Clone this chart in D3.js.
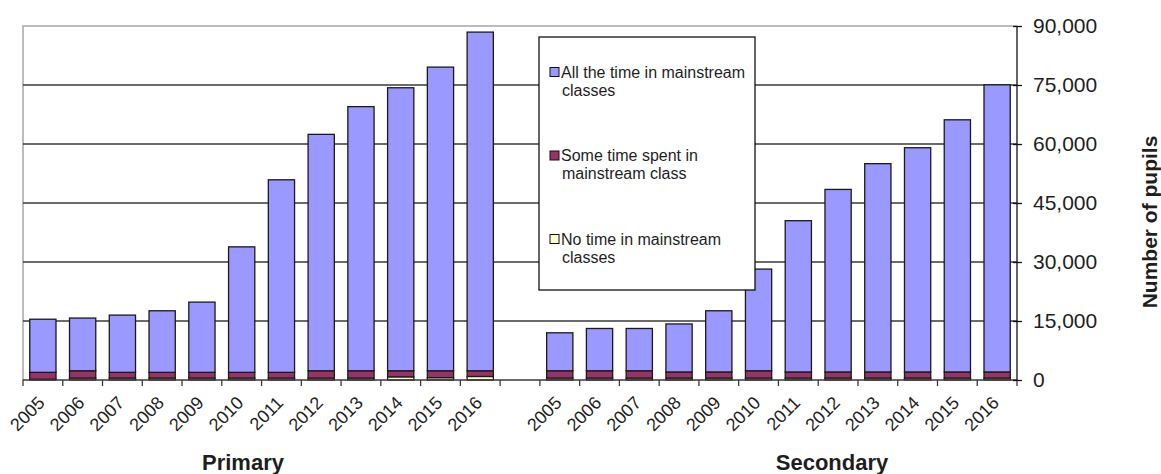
<!DOCTYPE html>
<html>
<head>
<meta charset="utf-8">
<script src="https://cdn.jsdelivr.net/npm/d3@7"></script>
<style>
  html, body { margin: 0; padding: 0; background: #fff; }
  svg { display: block; font-family: 'Liberation Sans', Arial, sans-serif; }
</style>
</head>
<body>
<div id="chart"></div>
<script>
/* Pupils by time spent in mainstream classes, primary vs secondary */

const years = ['2005', '2006', '2007', '2008', '2009', '2010', '2011', '2012', '2013', '2014', '2015', '2016'];
const seriesNames = ['No time in mainstream classes', 'Some time spent in mainstream class', 'All the time in mainstream classes'];

const primaryNone = [200, 500, 500, 500, 500, 500, 500, 500, 500, 800, 600, 900];
const primarySome = [1750, 1850, 1450, 1450, 1450, 1450, 1450, 1850, 1850, 1550, 1750, 1450];
const primaryAll  = [13500, 13400, 14550, 15650, 17850, 31900, 48950, 60100, 67150, 71950, 77200, 86100];

const secondaryNone = [500, 500, 500, 500, 500, 500, 500, 500, 500, 500, 500, 500];
const secondarySome = [1850, 1850, 1850, 1550, 1550, 1850, 1550, 1550, 1550, 1550, 1550, 1550];
const secondaryAll  = [9650, 10750, 10750, 12200, 15550, 25850, 38450, 46400, 52950, 57000, 64100, 73000];

const yTicks = [0, 15000, 30000, 45000, 60000, 75000, 90000];
const groupLabels = ['Primary', 'Secondary'];

const cfg = {
  w: 1161,
  h: 474,
  left: 23,
  right: 1017,
  top: 26,
  bottom: 380,
  colors: ['#FFFFCC', '#993366', '#9999FF'],
  grid: '#3a3a3a',
  border: '#a6a6a6',
  text: '#1e1e1e',
};

// rows: 12 primary, one empty slot, 12 secondary
const rows = [];
years.forEach((yr, i) => rows.push({ key: 'P' + yr, year: yr, none: primaryNone[i], some: primarySome[i], all: primaryAll[i] }));
rows.push({ key: 'gap', year: '', none: 0, some: 0, all: 0 });
years.forEach((yr, i) => rows.push({ key: 'S' + yr, year: yr, none: secondaryNone[i], some: secondarySome[i], all: secondaryAll[i] }));

const svg = d3.select('#chart').append('svg')
  .attr('width', cfg.w)
  .attr('height', cfg.h);

const x = d3.scaleBand()
  .domain(rows.map(d => d.key))
  .range([cfg.left, cfg.right])
  .paddingInner(0.34)
  .paddingOuter(0.17);

const y = d3.scaleLinear()
  .domain([0, 90000])
  .range([cfg.bottom, cfg.top]);

// ─── Plot border (top/left) ───
svg.append('path')
  .attr('d', `M${cfg.left},${cfg.bottom} V${cfg.top} H${cfg.right}`)
  .attr('fill', 'none')
  .attr('stroke', cfg.border)
  .attr('stroke-width', 1.5);

// ─── Gridlines ───
svg.append('g')
  .selectAll('line')
  .data(yTicks.filter(t => t > 0 && t < 90000))
  .join('line')
  .attr('x1', cfg.left)
  .attr('x2', cfg.right)
  .attr('y1', d => y(d))
  .attr('y2', d => y(d))
  .attr('stroke', cfg.grid)
  .attr('stroke-width', 1.5);

// ─── Stacked bars ───
const stack = d3.stack().keys(['none', 'some', 'all']);
const layers = stack(rows.filter(d => d.key !== 'gap'));

svg.append('g')
  .selectAll('g')
  .data(layers)
  .join('g')
  .attr('fill', (d, i) => cfg.colors[i])
  .selectAll('rect')
  .data(d => d)
  .join('rect')
  .attr('x', d => x(d.data.key))
  .attr('width', x.bandwidth())
  .attr('y', d => y(d[1]))
  .attr('height', d => y(d[0]) - y(d[1]))
  .attr('stroke', '#1a1a1a')
  .attr('stroke-width', 1.3);

// ─── X axis ───
const step = x.step();
const boundaries = d3.range(rows.length + 1).map(i => cfg.left + i * step);

svg.append('line')
  .attr('x1', cfg.left).attr('x2', cfg.right)
  .attr('y1', cfg.bottom).attr('y2', cfg.bottom)
  .attr('stroke', cfg.grid)
  .attr('stroke-width', 1.5);

svg.append('g')
  .selectAll('line')
  .data(boundaries)
  .join('line')
  .attr('x1', d => d).attr('x2', d => d)
  .attr('y1', cfg.bottom).attr('y2', cfg.bottom + 6)
  .attr('stroke', cfg.grid)
  .attr('stroke-width', 1.3);

const xAxis = svg.append('g')
  .attr('transform', `translate(0,${cfg.bottom})`)
  .call(d3.axisBottom(x).tickSize(0).tickFormat(k => rows.find(r => r.key === k).year));
xAxis.select('.domain').remove();
xAxis.selectAll('text')
  .attr('font-family', "'Liberation Sans', Arial, sans-serif")
  .attr('font-size', '18px')
  .attr('fill', cfg.text)
  .attr('text-anchor', 'end')
  .attr('dy', null)
  .attr('y', 0)
  .attr('transform', 'translate(3,24) rotate(-45)');

// ─── Y axis (right) ───
const yAxis = svg.append('g')
  .attr('transform', `translate(${cfg.right},0)`)
  .call(d3.axisRight(y).tickValues(yTicks).tickSize(5).tickPadding(11).tickFormat(d3.format(',')));
yAxis.select('.domain')
  .attr('stroke', '#111')
  .attr('stroke-width', 1.3)
  .attr('d', `M0,${cfg.top} V${cfg.bottom}`);
yAxis.selectAll('.tick line')
  .attr('x1', -4)
  .attr('stroke', '#111')
  .attr('stroke-width', 1.3);
yAxis.selectAll('text')
  .attr('font-family', "'Liberation Sans', Arial, sans-serif")
  .attr('font-size', '21px')
  .attr('fill', cfg.text);

svg.append('text')
  .attr('transform', `translate(1157,222) rotate(-90)`)
  .attr('text-anchor', 'middle')
  .attr('font-size', '21px')
  .attr('font-weight', 'bold')
  .attr('fill', cfg.text)
  .text('Number of pupils');

// ─── Group labels ───
[243, 832].forEach((cx, i) => {
  svg.append('text')
    .attr('x', cx)
    .attr('y', 470)
    .attr('text-anchor', 'middle')
    .attr('font-size', '22px')
    .attr('font-weight', 'bold')
    .attr('fill', cfg.text)
    .text(groupLabels[i]);
});

// ─── Legend ───
const legend = svg.append('g').attr('transform', 'translate(539,37)');
legend.append('rect')
  .attr('width', 216)
  .attr('height', 253)
  .attr('fill', '#fff')
  .attr('stroke', '#111')
  .attr('stroke-width', 1.3);

const legendItems = [
  { color: cfg.colors[2], lines: ['All the time in mainstream', 'classes'] },
  { color: cfg.colors[1], lines: ['Some time spent in', 'mainstream class'] },
  { color: cfg.colors[0], lines: ['No time in mainstream', 'classes'] },
];

legendItems.forEach((item, i) => {
  const g = legend.append('g').attr('transform', `translate(0,${35 + i * 83.5})`);
  g.append('rect')
    .attr('x', 11).attr('y', -4.5)
    .attr('width', 9).attr('height', 9)
    .attr('fill', item.color)
    .attr('stroke', '#111')
    .attr('stroke-width', 1);
  item.lines.forEach((ln, j) => {
    g.append('text')
      .attr('x', j === 0 ? 22 : 23)
      .attr('y', j * 18)
      .attr('dy', '0.35em')
      .attr('font-size', '16px')
      .attr('fill', cfg.text)
      .text(ln);
  });
});
</script>
</body>
</html>
